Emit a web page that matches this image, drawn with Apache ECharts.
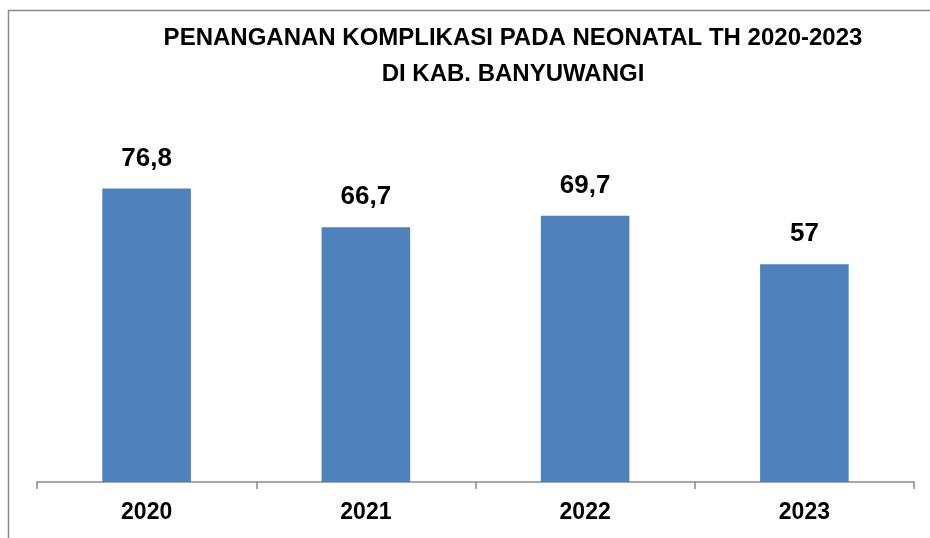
<!DOCTYPE html>
<html>
<head>
<meta charset="utf-8">
<title>Penanganan Komplikasi pada Neonatal</title>
<script src="https://cdn.jsdelivr.net/npm/echarts@6/dist/echarts.min.js"></script>
<style>
  html, body { margin: 0; padding: 0; background: #ffffff; }
  #chart { width: 930px; height: 538px; }
</style>
</head>
<body>
<div id="chart"></div>
<script>
// Years on the category axis
const years = ['2020', '2021', '2022', '2023'];
// Percentage of neonatal complications handled, per year
const values = [76.8, 66.7, 69.7, 57];
// Value-axis range (axis itself is hidden)
const yMin = 0;
const yMax = 100;

const FONT = '"Liberation Sans", Arial, sans-serif';

const chart = echarts.init(document.getElementById('chart'), null, { renderer: 'canvas' });

chart.setOption({
  backgroundColor: '#ffffff',
  animation: false,
  title: {
    text: 'PENANGANAN KOMPLIKASI PADA NEONATAL TH 2020-2023\nDI KAB. BANYUWANGI',
    left: 513,
    top: 20,
    padding: 0,
    textAlign: 'center',
    textStyle: {
      fontFamily: FONT,
      fontSize: 24,
      fontWeight: 'bold',
      color: '#000000',
      lineHeight: 36
    }
  },
  // outer frame of the chart area
  graphic: [{
    type: 'rect',
    shape: { x: 8.5, y: 10.5, width: 1000, height: 600 },
    style: { fill: 'none', stroke: '#8a8a8a', lineWidth: 1.5 },
    silent: true,
    z: -1
  }],
  grid: {
    left: 37,
    right: 16,
    top: 100,
    bottom: 56,
    containLabel: false
  },
  xAxis: {
    type: 'category',
    data: years,
    boundaryGap: true,
    axisLine: { show: true, lineStyle: { color: '#8a8a8a', width: 1.5 } },
    axisTick: { show: true, alignWithLabel: false, length: 7, lineStyle: { color: '#8a8a8a', width: 1.5 } },
    axisLabel: {
      margin: 19,
      fontFamily: FONT,
      fontSize: 23,
      fontWeight: 'bold',
      color: '#000000'
    }
  },
  yAxis: {
    type: 'value',
    min: yMin,
    max: yMax,
    show: false,
    splitLine: { show: false }
  },
  series: [{
    type: 'bar',
    data: values,
    barWidth: '40.4%',
    itemStyle: { color: '#4F81BD' },
    label: {
      show: true,
      position: 'top',
      distance: 17,
      fontFamily: FONT,
      fontSize: 26,
      fontWeight: 'bold',
      color: '#000000',
      formatter: (p) => String(p.value).replace('.', ',')
    }
  }]
});
</script>
</body>
</html>
